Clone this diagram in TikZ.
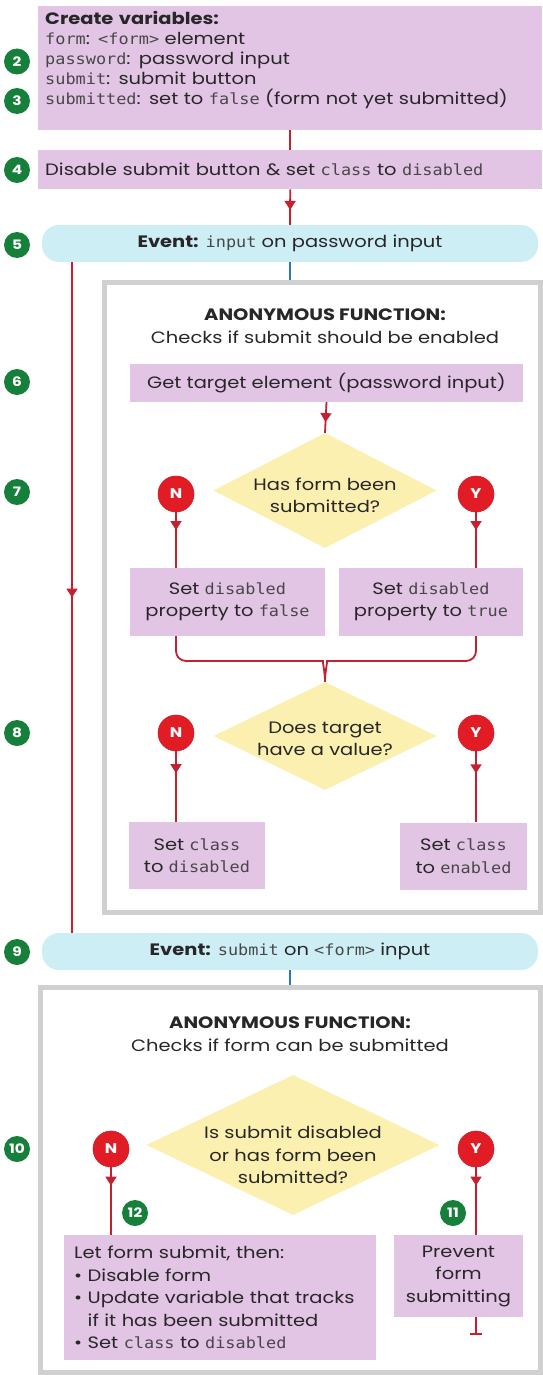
\documentclass[tikz,border=0pt]{standalone}
\usepackage{fontspec}
\setmainfont{Poppins}[FakeStretch=1.18]
\setmonofont{DejaVu Sans Mono}[Scale=0.93, FakeStretch=1.1]
\usetikzlibrary{arrows.meta,calc,positioning,shapes.geometric,decorations.markings}
\definecolor{stepPink}{RGB}{226,196,228}
\definecolor{askYellow}{RGB}{251,240,175}
\definecolor{eventCyan}{RGB}{206,238,246}
\definecolor{flowRed}{RGB}{196,32,48}
\definecolor{ynRed}{RGB}{226,28,36}
\definecolor{numGreen}{RGB}{22,128,58}
\definecolor{frameGray}{RGB}{208,208,208}
\definecolor{ink}{RGB}{40,38,40}
\definecolor{wireBlue}{RGB}{40,120,190}
\newcommand{\mono}[1]{{\ttfamily\color{ink!85}#1}}
\tikzset{
  body/.style    = {font=\fontsize{16.5}{22.5}\selectfont, text=ink},
  stepbox/.style = {body, fill=stepPink, inner sep=0pt},
  ask/.style     = {diamond, fill=askYellow, inner sep=0pt},
  asktext/.style = {body, align=center},
  event/.style   = {body, fill=eventCyan, rounded corners=17pt, minimum width=496pt, minimum height=37pt},
  fnframe/.style = {draw=frameGray, line width=5pt, fill=white},
  num/.style     = {circle, fill=numGreen, text=white, inner sep=0pt, minimum size=26pt,
                    font=\bfseries\fontsize{13}{13}\selectfont},
  yn/.style      = {circle, fill=ynRed, draw=flowRed, line width=0.6pt, text=white, inner sep=0pt,
                    minimum size=36pt, font=\bfseries\fontsize{14}{14}\selectfont},
  flow/.style    = {flowRed, line width=1.8pt},
  feed/.style    = {wireBlue, line width=1.8pt},
  tipat/.style   = {decoration={markings, mark=at position #1 with {\arrow{Triangle[length=9pt,width=11pt]}}},
                    postaction=decorate},
}

\begin{document}
\begin{tikzpicture}[x=1pt,y=-1pt]
  \useasboundingbox (0,0) rectangle (542,1375);
  \fill[white] (0,0) rectangle (542,1375);

  \node[stepbox, anchor=north west, text width=490pt, inner xsep=7pt, minimum height=124pt,
        align=left, font=\fontsize{16.5}{20}\selectfont] (vars) at (38,6)
    {\textbf{Create variables:}\\
     \mono{form}: \mono{<form>} element\\
     \mono{password}: password input\\
     \mono{submit}: submit button\\
     \mono{submitted}: set to \mono{false} (form not yet submitted)\\ \mbox{}};
  \node[stepbox, anchor=north west, text width=490pt, inner xsep=7pt, minimum height=39pt,
        align=left] (disable) at (38,150)
    {Disable submit button \& set \mono{class} to \mono{disabled}};
  \node[event] (inputEv) at (290,243.5) {\textbf{Event:} \mono{input} on password input};

  \node[fnframe, minimum width=436pt, minimum height=630pt] (fnCheck) at (322,597) {};
  \node[body, align=center] (titleA) at (325,326)
    {\textbf{ANONYMOUS FUNCTION:}\\Checks if submit should be enabled};
  \node[stepbox, minimum width=393pt, minimum height=38pt] (target) at (326.5,383)
    {Get target element (password input)};
  \node[ask, minimum width=223pt, minimum height=115pt,
        label={[asktext, yshift=-5pt]center:Has form been\\submitted?}] (asked) at (325,490.5) {};
  \node[yn] (noA) at (176,494) {N};
  \node[yn] (yesA) at (476,494) {Y};
  \node[stepbox, minimum width=195pt, minimum height=68pt, align=center] (setFalse) at (227.5,602)
    {Set \mono{disabled}\\property to \mono{false}};
  \node[stepbox, minimum width=184pt, minimum height=68pt, align=center] (setTrue) at (431,602)
    {Set \mono{disabled}\\property to \mono{true}};
  \coordinate (brace) at (325,661);
  \node[ask, minimum width=223pt, minimum height=108pt,
        label={[asktext, yshift=-3pt]center:Does target\\have a value?}] (hasValue) at (325,736) {};
  \node[yn] (noB) at (176,733) {N};
  \node[yn] (yesB) at (476,733) {Y};
  \node[stepbox, minimum width=136pt, minimum height=67pt, align=center] (setDis) at (197,855.5)
    {Set \mono{class}\\to \mono{disabled}};
  \node[stepbox, minimum width=127pt, minimum height=67pt, align=center] (setEn) at (463.5,856)
    {Set \mono{class}\\to \mono{enabled}};

  \node[event] (submitEv) at (290,951.5) {\textbf{Event:} \mono{submit} on \mono{<form>} input};

  \node[fnframe, minimum width=500pt, minimum height=385pt] (fnSubmit) at (290,1179.5) {};
  \node[body, align=center] (titleB) at (290,1034)
    {\textbf{ANONYMOUS FUNCTION:}\\Checks if form can be submitted};
  \node[ask, minimum width=293pt, minimum height=140pt,
        label={[asktext, yshift=-10pt]center:Is submit disabled\\or has form been\\submitted?}] (canSubmit) at (293,1145) {};
  \node[yn] (noC) at (111,1149) {N};
  \node[yn] (yesC) at (476,1149) {Y};
  \node[stepbox, anchor=north west, text width=292pt, inner xsep=10pt, minimum height=125pt,
        align=left] (letSubmit) at (64,1235)
    {Let form submit, then:\\
     \textbullet\ Disable form\\
     \textbullet\ Update variable that tracks\\
     \phantom{\textbullet\ }if it has been submitted\\
     \textbullet\ Set \mono{class} to \mono{disabled}};
  \node[stepbox, minimum width=129pt, minimum height=82pt, align=center] (prevent) at (458.5,1276)
    {Prevent\\form\\submitting};
  \coordinate (halt) at (476,1335);

  \foreach \n/\y in {2/61.5, 3/101, 4/170, 5/245, 6/382, 7/492, 8/733, 9/952, 10/1149}
    \node[num] (num\n) at (17,\y) {\n};
  \node[num] (num12) at (135,1213) {12};
  \node[num] (num11) at (453,1213) {11};

  \draw[flow] (vars.south) -- (disable.north);
  \draw[flow, tipat=0.58] (disable.south) -- (inputEv.north);
  \draw[feed] (inputEv.south) -- (inputEv.south |- fnCheck.north);
  \coordinate (rail) at (72,0);
  \draw[flow, tipat=0.5] (inputEv.south -| rail) -- (submitEv.north -| rail);
  \draw[flow, tipat=0.65] (target.south) -- (asked.north);
  \draw[flow, tipat=0.32] (noA.south) -- (noA.south |- setFalse.north);
  \draw[flow, tipat=0.32] (yesA.south) -- (yesA.south |- setTrue.north);
  \draw[flow, rounded corners=10pt] (noA |- setFalse.south) |- ([xshift=-12pt]brace)
    [sharp corners] to[out=0,in=90] (hasValue.north);
  \draw[flow, rounded corners=10pt] (yesA |- setTrue.south) |- ([xshift=12pt]brace)
    [sharp corners] to[out=180,in=90] (hasValue.north);
  \draw[flow, tipat=0.31] (noB.south) -- (noB.south |- setDis.north);
  \draw[flow, tipat=0.31] (yesB.south) -- (yesB.south |- setEn.north);
  \draw[feed] (submitEv.south) -- (submitEv.south |- fnSubmit.north);
  \draw[flow, tipat=0.27] (noC.south) -- (noC.south |- letSubmit.north);
  \draw[flow, tipat=0.27] (yesC.south) -- (yesC.south |- prevent.north);
  \draw[flow, -{Bar[width=12pt]}] (halt |- prevent.south) -- (halt);
\end{tikzpicture}
\end{document}
